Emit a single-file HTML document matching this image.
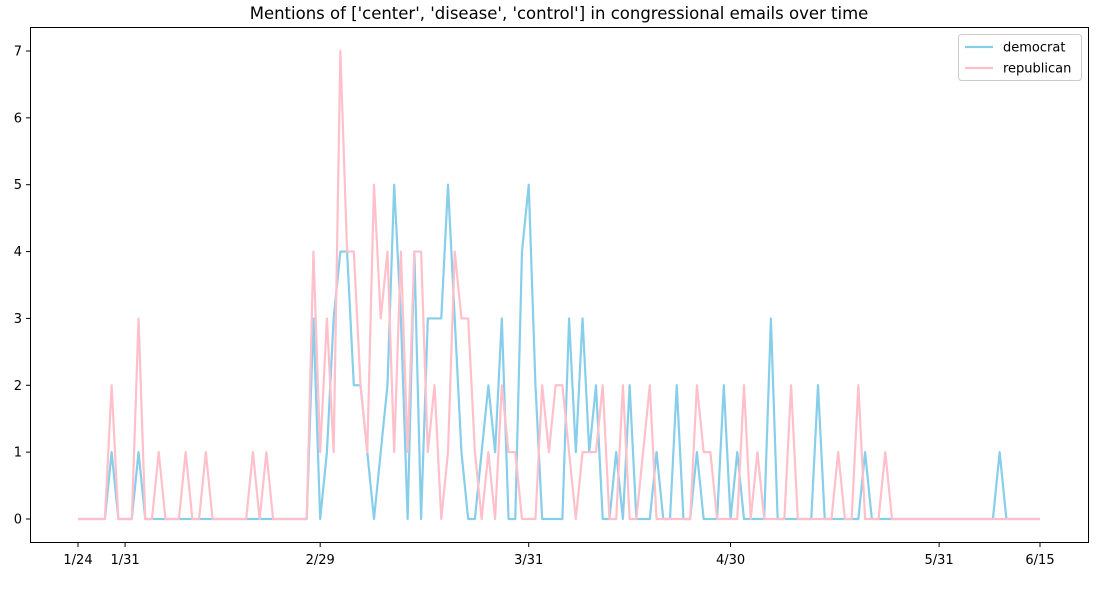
<!DOCTYPE html>
<html><head><meta charset="utf-8"><style>
body{margin:0;background:#fff;}
svg text{font-family:"DejaVu Sans","Liberation Sans",sans-serif;fill:#000;}
</style></head><body>
<svg id="chart" width="1101" height="586" xmlns="http://www.w3.org/2000/svg">
<rect width="1101" height="586" fill="#fff"/>
<text x="559" y="19" font-size="16.5" text-anchor="middle">Mentions of ['center', 'disease', 'control'] in congressional emails over time</text>
<g id="plot"></g>
<rect x="30.5" y="27.5" width="1058" height="515" fill="none" stroke="#000" stroke-width="1"/>
<g>
<rect x="958.5" y="34.5" width="123" height="46" rx="3" fill="#fff" stroke="#ccc"/>
<line x1="965" y1="47" x2="993" y2="47" stroke="#87CEEB" stroke-width="2.2"/>
<text x="1003" y="51.5" font-size="13">democrat</text>
<line x1="965" y1="68" x2="993" y2="68" stroke="#FFC0CB" stroke-width="2.2"/>
<text x="1003" y="72.5" font-size="13">republican</text>
</g>
</svg>
<script>
const democrat = [0,0,0,0,0,1,0,0,0,1, 0,0,0,0,0,0,0,0,0,0, 0,0,0,0,0,0,0,0,0,0, 0,0,0,0,0,3,0,1,3,4,
4,2,2,1,0,1,2,5,3,0, 4,0,3,3,3,5,3,1,0,0, 1,2,1,3,0,0,4,5,2,0, 0,0,0,3,1,3,1,2,0,0,
1,0,2,0,0,0,1,0,0,2, 0,0,1,0,0,0,2,0,1,0, 0,0,0,3,0,0,0,0,0,0, 2,0,0,0,0,0,0,1,0,0,
0,0,0,0,0,0,0,0,0,0, 0,0,0,0,0,0,0,1,0,0, 0,0,0,0];
const republican = [0,0,0,0,0,2,0,0,0,3, 0,0,1,0,0,0,1,0,0,1, 0,0,0,0,0,0,1,0,1,0, 0,0,0,0,0,4,1,3,1,7,
4,4,2,1,5,3,4,1,4,1, 4,4,1,2,0,1,4,3,3,1, 0,1,0,2,1,1,0,0,0,2, 1,2,2,1,0,1,1,1,2,0,
0,2,0,0,1,2,0,0,0,0, 0,0,2,1,1,0,0,0,0,2, 0,1,0,0,0,0,2,0,0,0, 0,0,0,1,0,0,2,0,0,0,
1,0,0,0,0,0,0,0,0,0, 0,0,0,0,0,0,0,0,0,0, 0,0,0,0];
const xTickDays = [0,7,36,67,97,128,143];
const xTickLabels = ["1/24","1/31","2/29","3/31","4/30","5/31","6/15"];
const yTicks = [0,1,2,3,4,5,6,7];

const NS="http://www.w3.org/2000/svg";
const g=document.getElementById('plot');
const xs=d=>78+d*(962/143);
const ys=v=>519-v*(468/7);
function mk(tag,attrs){const e=document.createElementNS(NS,tag);for(const k in attrs)e.setAttribute(k,attrs[k]);g.appendChild(e);return e;}
yTicks.forEach(v=>{
  const t=mk('line',{x1:26,x2:30,y1:ys(v),y2:ys(v),stroke:'#000'});
  
  
  const l=mk('text',{x:22,y:ys(v)+4.5,'font-size':13,'text-anchor':'end'});
  l.textContent=v;
  
  
});
xTickDays.forEach((d,i)=>{
  const t=mk('line',{x1:xs(d),x2:xs(d),y1:543,y2:547,stroke:'#000'});
  
  
  const l=mk('text',{x:xs(d),y:564,'font-size':13,'text-anchor':'middle'});
  l.textContent=xTickLabels[i];
  
  
});
function series(arr,color,name){
  const p=mk('polyline',{points:arr.map((v,i)=>xs(i)+','+ys(v)).join(' '),fill:'none',stroke:color,'stroke-width':2.2,'stroke-linejoin':'round'});
  
  
}
series(democrat,'#87CEEB','democrat-line');
series(republican,'#FFC0CB','republican-line');
</script>
</body></html>
